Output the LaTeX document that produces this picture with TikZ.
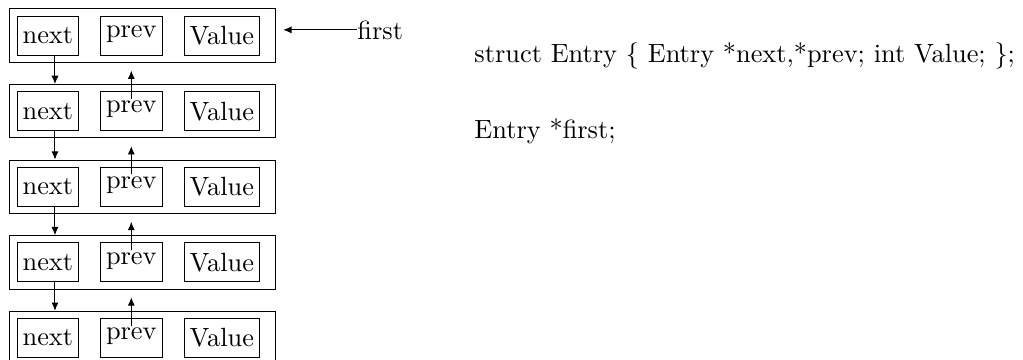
\documentclass[tikz,border=0pt]{standalone}
\usetikzlibrary{arrows.meta}
\begin{document}
\begin{tikzpicture}[x=0.41pt,y=-0.41pt,
  font=\fontsize{10.8pt}{13pt}\selectfont,
  outer/.style={draw, minimum width=109.1pt, minimum height=21.9pt, inner sep=0pt},
  cell/.style={draw, minimum height=16pt, inner xsep=2.3pt, inner ysep=0pt},
  arr/.style={-{Latex[length=3.4pt,width=2.9pt]}},
  txt/.style={inner sep=0pt, anchor=base west}]
\useasboundingbox (0,0) rectangle (1023,360);
\foreach \i in {1,...,5}{
  \pgfmathsetmacro{\yy}{35.6+75.6*(\i-1)}
  \node[outer] (r\i) at (142.3,\yy) {};
  \node[cell] (n\i) at (47.9,\yy) {next};
  \node[cell, text depth=3.4pt] (p\i) at (131.3,\yy) {prev};
  \node[cell] (v\i) at (221.8,\yy) {Value};
}
\foreach \i/\j in {1/2,2/3,3/4,4/5}{
  \draw[arr] ([xshift=2.9pt]n\i.south) -- ([xshift=2.9pt]n\i.south |- r\j.north);
  \draw[arr] ([yshift=-3.1pt]p\j.north) -- ([yshift=-3.2pt]p\j.north |- r\i.south);
}
\node[txt] (first) at (357,39) {first};
\draw[arr] (first.west) -- ([xshift=3.05pt]r1.east |- first.west);
\node[txt] (decl) at (474,62.7) {struct Entry \{ Entry *next,*prev; int Value; \};};
\node[txt] (var) at (474,138.3) {Entry *first;};
\end{tikzpicture}
\end{document}
